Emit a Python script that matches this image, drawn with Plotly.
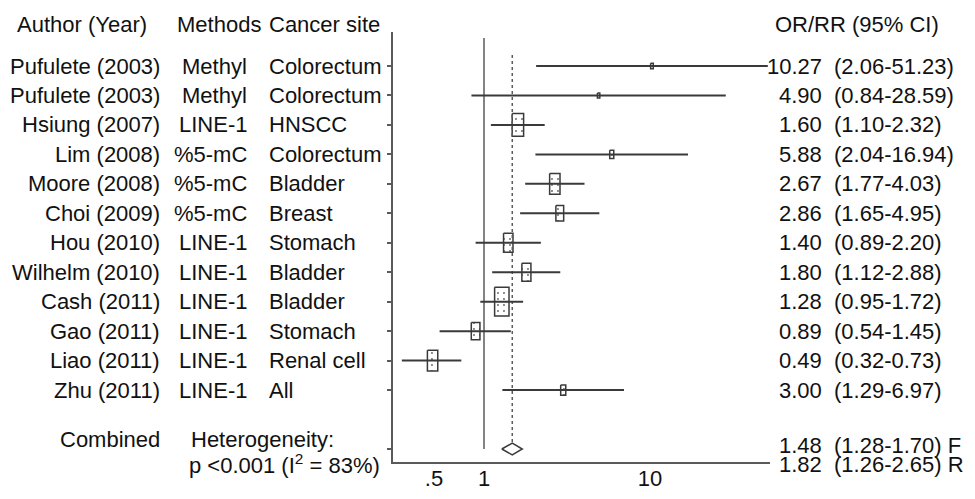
import math
import plotly.graph_objects as go

# ---------------- data ----------------
authors = ["Pufulete (2003)", "Pufulete (2003)", "Hsiung (2007)", "Lim (2008)", "Moore (2008)",
           "Choi (2009)", "Hou (2010)", "Wilhelm (2010)", "Cash (2011)", "Gao (2011)",
           "Liao (2011)", "Zhu (2011)"]
methods = ["Methyl", "Methyl", "LINE-1", "%5-mC", "%5-mC", "%5-mC", "LINE-1", "LINE-1",
           "LINE-1", "LINE-1", "LINE-1", "LINE-1"]
sites = ["Colorectum", "Colorectum", "HNSCC", "Colorectum", "Bladder", "Breast", "Stomach",
         "Bladder", "Bladder", "Stomach", "Renal cell", "All"]
estimates = [10.27, 4.90, 1.60, 5.88, 2.67, 2.86, 1.40, 1.80, 1.28, 0.89, 0.49, 3.00]
lowers = [2.06, 0.84, 1.10, 2.04, 1.77, 1.65, 0.89, 1.12, 0.95, 0.54, 0.32, 1.29]
uppers = [51.23, 28.59, 2.32, 16.94, 4.03, 4.95, 2.20, 2.88, 1.72, 1.45, 0.73, 6.97]

fixed = (1.48, 1.28, 1.70)
random_eff = (1.82, 1.26, 2.65)
heterogeneity = "p <0.001 (I<sup>2</sup> = 83%)"

x_tickvals = [0.5, 1, 10]
x_ticktext = [".5", "1", "10"]

# ---------------- styling ----------------
FONT = "Arial, Liberation Sans, sans-serif"
FS = 22
TXT = "#111111"
LINE = "#3a3a3a"
AXC = "#5a5a5a"
OFF = 8  # page body margin

L, R, T, B = 393, 770, 32, 462
XMIN, XMAX = 0.283, 52.8
YTOP, YBOT = -0.154, 14.441
px_per_dec = (R - L) / (math.log10(XMAX) - math.log10(XMIN))
px_per_row = (B - T) / (YBOT - YTOP)

n = len(authors)
rows = list(range(1, n + 1))
comb_row = n + 2

fig = go.Figure()

# weight boxes (area proportional to inverse-variance weight), dotted fill
for r, est, lo, hi in zip(rows, estimates, lowers, uppers):
    se = (math.log(hi) - math.log(lo)) / (2 * 1.96)
    w = 1.0 / se ** 2
    area = 9.5 * w
    bw = math.sqrt(area / 2.0)
    bh = 2.0 * bw
    f = 10 ** (bw / 2 / px_per_dec)
    dy = bh / 2 / px_per_row
    x0, x1, y0, y1 = est / f, est * f, r - dy, r + dy
    fig.add_trace(go.Scatter(x=[x0, x1, x1, x0, x0], y=[y0, y0, y1, y1, y0],
                             mode="lines", fill="toself", fillcolor="white",
                             fillpattern=dict(shape=".", size=6, solidity=0.08,
                                              fgcolor="#666666", bgcolor="white"),
                             line=dict(color=LINE, width=1.5),
                             hoverinfo="skip", showlegend=False))

# reference line at 1
fig.add_trace(go.Scatter(x=[1, 1], y=[0.05, comb_row], mode="lines",
                         line=dict(color=AXC, width=1.5), hoverinfo="skip", showlegend=False))
# dashed line at fixed combined estimate
fig.add_trace(go.Scatter(x=[fixed[0], fixed[0]], y=[0.63, comb_row - 0.2], mode="lines",
                         line=dict(color=AXC, width=1.5, dash="3px,3px"), hoverinfo="skip",
                         showlegend=False))

# CI lines
for r, lo, hi in zip(rows, lowers, uppers):
    fig.add_trace(go.Scatter(x=[lo, hi], y=[r, r], mode="lines",
                             line=dict(color=LINE, width=2), hoverinfo="skip", showlegend=False))

# combined diamond (fixed effect)
fig.add_trace(go.Scatter(x=[fixed[1], fixed[0], fixed[2], fixed[0], fixed[1]],
                         y=[comb_row, comb_row - 0.2, comb_row, comb_row + 0.2, comb_row],
                         mode="lines", line=dict(color=LINE, width=1.5),
                         hoverinfo="skip", showlegend=False))

# ---------------- texts ----------------


def px(p):
    return (p - L) / (R - L)


def py(p):
    return (B - p) / (B - T)


def ann(text, xpix, y, anchor, yref="y"):
    fig.add_annotation(text=text, x=px(xpix), xref="paper", y=y, yref=yref,
                       xanchor=anchor, yanchor="middle", showarrow=False,
                       font=dict(family=FONT, size=FS, color=TXT))


hdr = py(24)
ann("Author (Year)", 15, hdr, "left", "paper")
ann("Methods", 175, hdr, "left", "paper")
ann("Cancer site", 267, hdr, "left", "paper")
ann("OR/RR (95% CI)", 773, hdr, "left", "paper")

for r, a, m, s, e, lo, hi in zip(rows, authors, methods, sites, estimates, lowers, uppers):
    ann(a, 162, r, "right")
    ann(m, 249, r, "right")
    ann(s, 267, r, "left")
    ann(f"{e:.2f}", 824, r, "right")
    ann(f"({lo:.2f}-{hi:.2f})", 832, r, "left")

ann("Combined", 162, py(439), "right", "paper")
ann("Heterogeneity:", 189, py(439), "left", "paper")
ann(heterogeneity, 187, py(464), "left", "paper")
ann(f"{fixed[0]:.2f}", 824, py(445), "right", "paper")
ann(f"({fixed[1]:.2f}-{fixed[2]:.2f}) F", 832, py(445), "left", "paper")
ann(f"{random_eff[0]:.2f}", 824, py(465), "right", "paper")
ann(f"({random_eff[1]:.2f}-{random_eff[2]:.2f}) R", 832, py(465), "left", "paper")

fig.update_layout(
    template="none",
    width=975 - OFF, height=499 - OFF,
    margin=dict(l=L - OFF, r=975 - R, t=T - OFF, b=499 - B, pad=0, autoexpand=False),
    paper_bgcolor="white", plot_bgcolor="white",
    showlegend=False,
    font=dict(family=FONT, size=FS, color=TXT),
    xaxis=dict(type="log", range=[math.log10(XMIN), math.log10(XMAX)],
               tickvals=x_tickvals, ticktext=x_ticktext, ticks="", automargin=False,
               ticklabelstandoff=-4,
               showgrid=False, zeroline=False, showline=True, linecolor=AXC, linewidth=1.5,
               tickfont=dict(family=FONT, size=FS, color=TXT), fixedrange=True),
    yaxis=dict(range=[YBOT, YTOP], tickvals=rows + [comb_row], showticklabels=False,
               ticks="outside", ticklen=4, tickcolor=AXC, tickwidth=1.5, automargin=False,
               showgrid=False, zeroline=False, showline=True, linecolor=AXC, linewidth=1.5,
               fixedrange=True),
)

fig.write_html("out.html")
